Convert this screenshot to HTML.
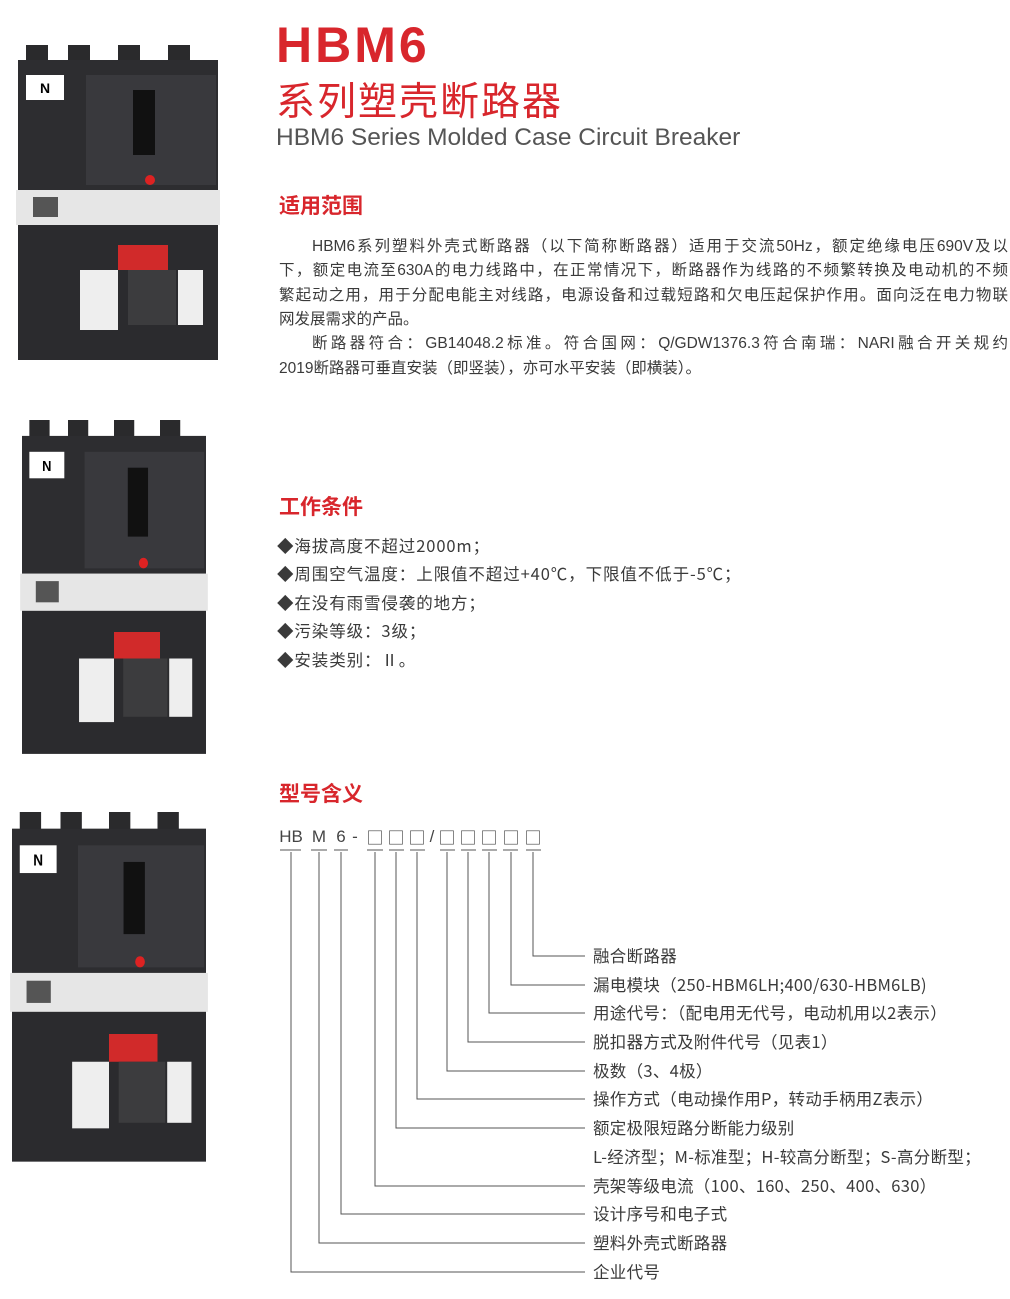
<!DOCTYPE html>
<html><head><meta charset="utf-8"><style>
body{margin:0;width:1010px;height:1299px;background:#fff;position:relative;overflow:hidden;font-family:"Liberation Sans","Noto Sans CJK SC",sans-serif;color:#3a3a3a}
.a{position:absolute;white-space:nowrap}
.h{color:#d8262c;font-weight:bold;font-size:21px}
.ln{position:absolute;left:279px;width:729px;font-size:15.5px;text-align:justify;text-align-last:justify;white-space:nowrap;height:24px;line-height:24px}
.li{position:absolute;left:277px;font-size:16.5px;line-height:24px;font-family:"Noto Sans CJK SC",sans-serif;letter-spacing:0.9px}
.lb{position:absolute;left:593px;font-size:16.5px;line-height:20px;white-space:nowrap;font-family:"Noto Sans CJK SC",sans-serif;letter-spacing:0.3px}
.c{position:absolute;top:826px;font-size:17px;line-height:22px;color:#444;font-family:"Noto Sans CJK SC",sans-serif;width:18px;text-align:center}
</style></head><body>
<svg class="a" style="left:0;top:0" width="260" height="1299">
<defs>
<g id="brk">
<rect x="8" y="0" width="22" height="20" fill="#2a2a2c"/><rect x="50" y="0" width="22" height="20" fill="#2a2a2c"/><rect x="100" y="0" width="22" height="20" fill="#2a2a2c"/><rect x="150" y="0" width="22" height="20" fill="#2a2a2c"/>
<rect x="0" y="15" width="200" height="130" fill="#2d2d30"/>
<rect x="68" y="30" width="130" height="110" fill="#39393d"/>
<rect x="115" y="45" width="22" height="65" fill="#111"/>
<rect x="8" y="30" width="38" height="25" fill="#fff"/>
<text x="27" y="48" font-size="14" font-weight="bold" text-anchor="middle" font-family="Liberation Sans">N</text>
<circle cx="132" cy="135" r="5" fill="#d22"/>
<rect x="-2" y="145" width="204" height="35" fill="#e6e6e6"/>
<rect x="15" y="152" width="25" height="20" fill="#555"/>
<rect x="0" y="180" width="200" height="135" fill="#2b2b2e"/>
<rect x="100" y="200" width="50" height="25" fill="#d12a2a"/>
<rect x="62" y="225" width="38" height="60" fill="#eee"/>
<rect x="110" y="225" width="48" height="55" fill="#3c3c3e"/>
<rect x="160" y="225" width="25" height="55" fill="#eee"/>
</g>
</defs>
<use href="#brk" x="18" y="45"/>
<g transform="translate(22,420) scale(0.92,1.06)"><use href="#brk"/></g>
<g transform="translate(12,812) scale(0.97,1.11)"><use href="#brk"/></g>
</svg>
<div class="a" style="left:276px;top:16px;font-size:50px;font-weight:bold;color:#d8262c;letter-spacing:3px">HBM6</div>
<div class="a" style="left:276px;top:74px;font-size:39px;color:#d8262c;font-family:'Noto Sans CJK SC',sans-serif;letter-spacing:2px;line-height:50px">系列塑壳断路器</div>
<div class="a" style="left:276px;top:124px;font-size:24.5px;color:#555">HBM6 Series Molded Case Circuit Breaker</div>
<div class="a h" style="left:279px;top:190px">适用范围</div>
<div class="ln" style="top:235px;padding-left:33px;width:696px">HBM6系列塑料外壳式断路器（以下简称断路器）适用于交流50Hz，额定绝缘电压690V及以</div>
<div class="ln" style="top:259px">下，额定电流至630A的电力线路中，在正常情况下，断路器作为线路的不频繁转换及电动机的不频</div>
<div class="ln" style="top:284px">繁起动之用，用于分配电能主对线路，电源设备和过载短路和欠电压起保护作用。面向泛在电力物联</div>
<div class="ln" style="top:308px;text-align-last:left">网发展需求的产品。</div>
<div class="ln" style="top:332px;padding-left:33px;width:696px">断路器符合：GB14048.2标准。符合国网：Q/GDW1376.3符合南瑞：NARI融合开关规约</div>
<div class="ln" style="top:357px;text-align-last:left">2019断路器可垂直安装（即竖装），亦可水平安装（即横装）。</div>
<div class="a h" style="left:279px;top:491px">工作条件</div>
<div class="li" style="top:533px">◆海拔高度不超过2000m；</div>
<div class="li" style="top:561px">◆周围空气温度：上限值不超过+40℃，下限值不低于-5℃；</div>
<div class="li" style="top:590px">◆在没有雨雪侵袭的地方；</div>
<div class="li" style="top:618px">◆污染等级：3级；</div>
<div class="li" style="top:647px">◆安装类别：Ⅱ。</div>
<div class="a h" style="left:279px;top:778px">型号含义</div>
<div class="c" style="left:279px;width:24px;font-family:'Liberation Sans',sans-serif">HB</div>
<div class="c" style="left:310px;font-family:'Liberation Sans',sans-serif">M</div>
<div class="c" style="left:332px;font-family:'Liberation Sans',sans-serif">6</div>
<div class="c" style="left:346px;font-family:'Liberation Sans',sans-serif">-</div>
<div class="c" style="left:366px">□</div>
<div class="c" style="left:387px">□</div>
<div class="c" style="left:408px">□</div>
<div class="c" style="left:423px;font-family:'Liberation Sans',sans-serif">/</div>
<div class="c" style="left:438px">□</div>
<div class="c" style="left:459px">□</div>
<div class="c" style="left:480px">□</div>
<div class="c" style="left:502px">□</div>
<div class="c" style="left:524px">□</div>
<svg class="a" style="left:0;top:0" width="1010" height="1299" fill="none" stroke="#555" stroke-width="1">
<path d="M280 850H301M311 850H327M334 850H348M367 850H383M389 850H404M410 850H425M440 850H455M461 850H476M482 850H497M503 850H518M526 850H541"/>
<path d="M533 852V956H585M511 852V985H585M489 852V1013H585M468 852V1042H585M447 852V1071H585M417 852V1099H585M396 852V1128H585M375 852V1186H585M341 852V1214H585M319 852V1243H585M291 852V1272H585"/>
</svg>
<div class="lb" style="top:945px">融合断路器</div>
<div class="lb" style="top:974px">漏电模块（250-HBM6LH;400/630-HBM6LB)</div>
<div class="lb" style="top:1002px">用途代号：（配电用无代号，电动机用以2表示）</div>
<div class="lb" style="top:1031px">脱扣器方式及附件代号（见表1）</div>
<div class="lb" style="top:1060px">极数（3、4极）</div>
<div class="lb" style="top:1088px">操作方式（电动操作用P，转动手柄用Z表示）</div>
<div class="lb" style="top:1117px">额定极限短路分断能力级别</div>
<div class="lb" style="top:1146px">L-经济型；M-标准型；H-较高分断型；S-高分断型；</div>
<div class="lb" style="top:1175px">壳架等级电流（100、160、250、400、630）</div>
<div class="lb" style="top:1203px">设计序号和电子式</div>
<div class="lb" style="top:1232px">塑料外壳式断路器</div>
<div class="lb" style="top:1261px">企业代号</div>
</body></html>
